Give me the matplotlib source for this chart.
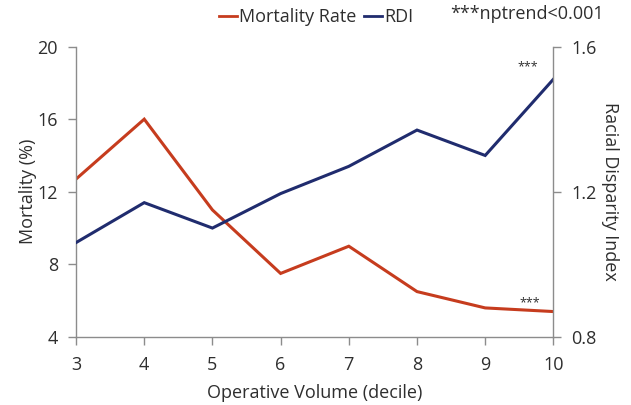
import matplotlib
matplotlib.use("Agg")
import matplotlib.pyplot as plt
from matplotlib.lines import Line2D

plt.rcParams['font.family'] = ['Open Sans', 'DejaVu Sans']

decile = [3, 4, 5, 6, 7, 8, 9, 10]
mortality = [12.7, 16.0, 11.0, 7.5, 9.0, 6.5, 5.6, 5.4]
rdi = [1.06, 1.17, 1.10, 1.195, 1.27, 1.37, 1.30, 1.51]
left_ticks = [4, 8, 12, 16, 20]
right_ticks = [0.8, 1.2, 1.6]

red = '#C63C1E'
blue = '#202C6E'
grey = '#8C8C8C'
txt = '#2E2E2E'
fs = 13

fig = plt.figure(figsize=(6.31, 4.05), dpi=100)
ax = fig.add_axes([0.1205, 0.168, 0.7565, 0.717])
ax2 = ax.twinx()

ax.plot(decile, mortality, color=red, lw=2.2, solid_joinstyle='miter')
ax2.plot(decile, rdi, color=blue, lw=2.2, solid_joinstyle='miter')

ax.set_xlim(3, 10)
ax.set_ylim(4, 20)
ax2.set_ylim(0.8, 1.6)
ax.set_xticks(decile)
ax.set_yticks(left_ticks)
ax2.set_yticks(right_ticks)
ax2.set_yticklabels([f"{v:.1f}" for v in right_ticks])

for a in (ax, ax2):
    a.spines['top'].set_visible(False)
    for s in ('left', 'right', 'bottom'):
        a.spines[s].set_color(grey)
        a.spines[s].set_linewidth(1.0)
    a.tick_params(colors=grey, labelcolor=txt, labelsize=fs, length=6, width=1.0, direction='out')
ax.tick_params(axis='x', pad=8)
ax.tick_params(axis='y', pad=7)
ax2.tick_params(axis='y', pad=7)
ax.spines['right'].set_visible(False)
ax2.spines['left'].set_visible(False)
ax2.spines['bottom'].set_visible(False)

ax.set_xlabel('Operative Volume (decile)', fontsize=fs, color=txt, labelpad=7)
ax.set_ylabel('Mortality (%)', fontsize=fs, color=txt, labelpad=0)
ax2.set_ylabel('Racial Disparity Index', fontsize=fs, color=txt, rotation=270, labelpad=16)

ax2.text(9.62, 1.545, '***', fontsize=9, color=txt, ha='center', va='center')
ax.text(9.65, 5.9, '***', fontsize=9, color=txt, ha='center', va='center')

handles = [Line2D([0], [0], color=red, lw=2.0), Line2D([0], [0], color=blue, lw=2.0)]
fig.legend(handles, ['Mortality Rate', 'RDI'], loc='upper left', bbox_to_anchor=(0.322, 1.02),
           ncol=2, frameon=False, fontsize=fs, handlelength=1.0, handletextpad=0.1,
           columnspacing=0.4, labelcolor=txt)
fig.text(0.957, 0.965, '***nptrend<0.001', fontsize=fs, color=txt, ha='right', va='center')

fig.savefig('out.png', dpi=100)
